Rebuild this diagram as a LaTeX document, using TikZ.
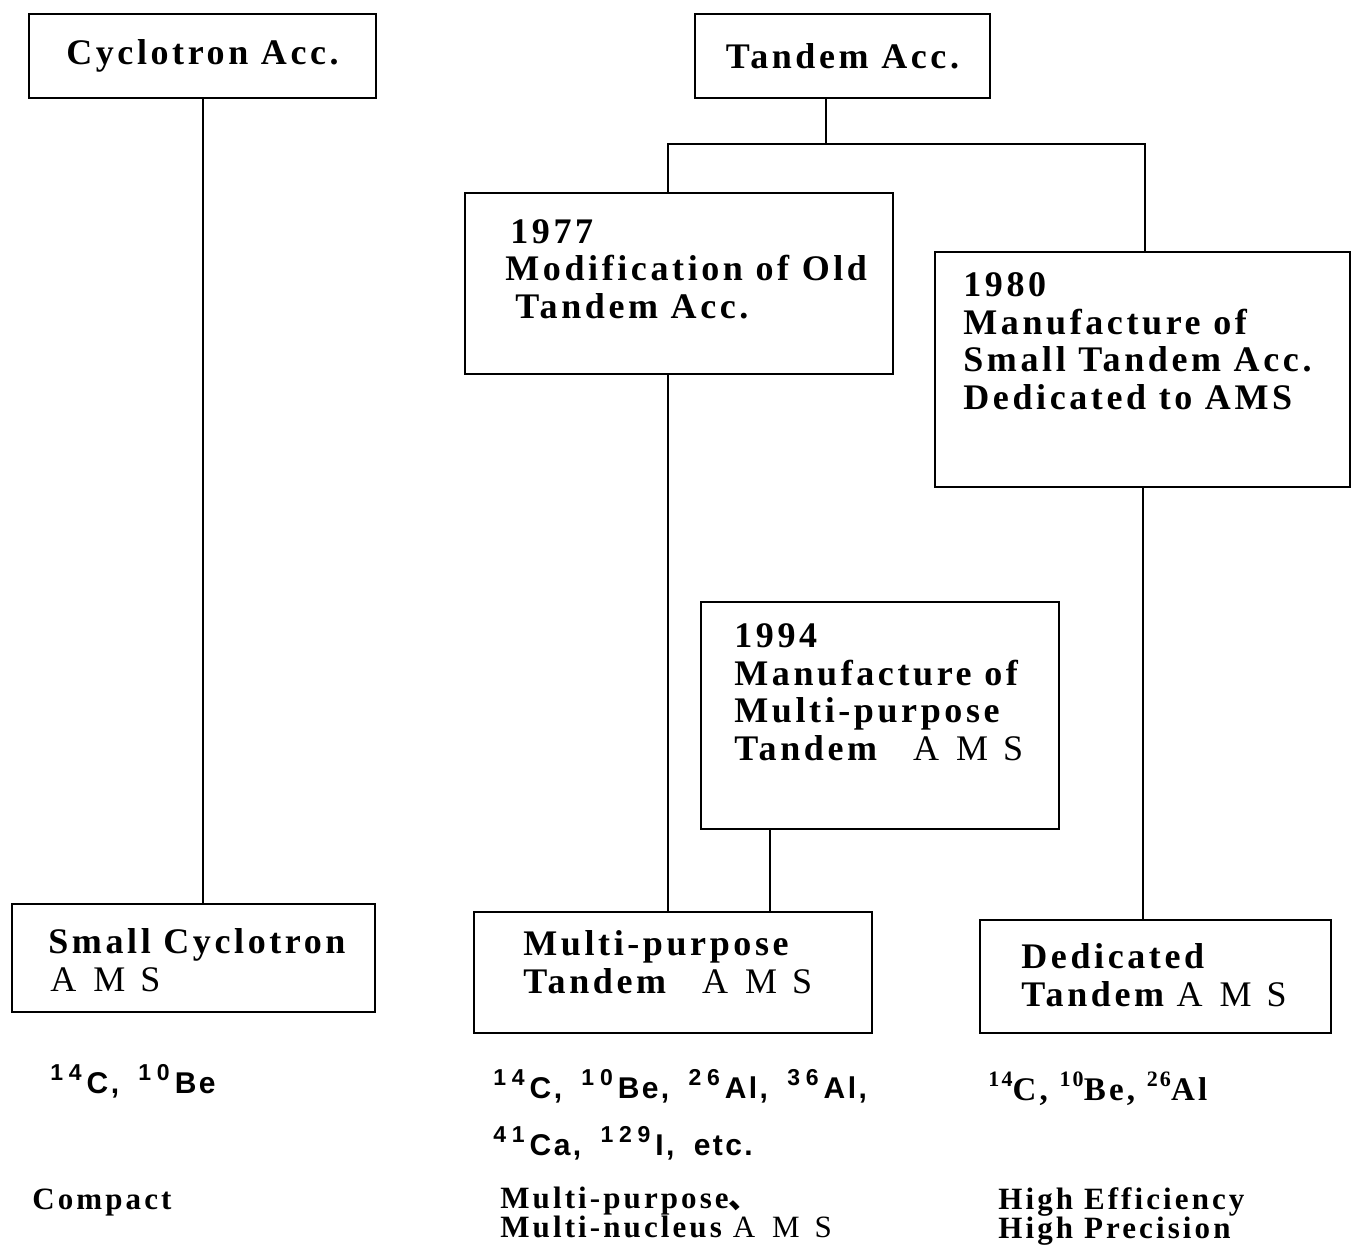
\documentclass[tikz,border=0pt]{standalone}
\usepackage{fontspec}
\setmainfont{Liberation Serif}
\newfontfamily\boxfont{Liberation Serif}[LetterSpace=10]
\newfontfamily\isofont{Liberation Sans}[LetterSpace=8, WordSpace=1.8]
\newfontfamily\isodigits{Liberation Sans}[LetterSpace=25]
\newfontfamily\cjk{Noto Sans CJK JP}
\newcommand{\Ams}{{\rmfamily\mdseries A\hspace{8.5pt}M\hspace{7.5pt}S}}
\newcommand{\IsoA}[2]{\raisebox{6.5pt}{\isodigits\fontsize{11.5}{11.5}\selectfont #1}\hspace{2.5pt}#2}
\newcommand{\IsoB}[2]{\raisebox{7pt}{\fontsize{11}{11}\selectfont #1}#2}

\begin{document}
\begin{tikzpicture}[x=0.5pt,y=-0.5pt]
\tikzset{BoxStyle/.style 2 args={draw, line width=1.2pt, inner sep=0pt,
  minimum width=#1, minimum height=#2,
  font=\boxfont\bfseries\fontsize{18}{18.75}\selectfont}}
\tikzset{TextStyle/.style={anchor=base west, align=left, inner sep=0pt,
  font=\boxfont\bfseries\fontsize{18}{18.75}\selectfont}}
\tikzset{IsoStyle/.style={anchor=base west, align=left, inner sep=0pt,
  font=\isofont\bfseries\fontsize{15}{28.5}\selectfont}}
\tikzset{NoteStyle/.style={anchor=base west, align=left, inner sep=0pt,
  font=\boxfont\bfseries\fontsize{15.5}{14.5}\selectfont}}
\tikzset{EdgeStyle/.style={line width=1pt}}
\useasboundingbox (0,0) rectangle (1352,1248);
\node[BoxStyle={173.5pt}{42pt}] (cyc) at (202.5,56) {Cyclotron Acc.};
\node[BoxStyle={147.5pt}{42pt}] (tan) at (842.5,56) {Tandem Acc.};
\node[BoxStyle={214pt}{90.5pt}] (m77) at (679,283.5) {};
\node[BoxStyle={207.5pt}{117.5pt}] (m80) at (1142.5,369.5) {};
\node[BoxStyle={179pt}{113.5pt}] (m94) at (880,715.5) {};
\node[BoxStyle={181.5pt}{54pt}] (scy) at (193.5,958) {};
\node[BoxStyle={199pt}{60.5pt}] (mpt) at (673,972.5) {};
\node[BoxStyle={175.5pt}{56.5pt}] (ded) at (1155.5,976.5) {};
\node[TextStyle] (t77) at (505,318) {\hspace{2.5pt}1977\\Modification of Old\\\hspace{5pt}Tandem Acc.};
\node[TextStyle] (t80) at (963,409) {1980\\Manufacture of\\Small Tandem Acc.\\Dedicated to AMS};
\node[TextStyle] (t94) at (734,760) {1994\\Manufacture of\\Multi-purpose\\Tandem\quad\Ams};
\node[TextStyle] (tscy) at (48,991) {Small Cyclotron\\\hspace{1pt}\Ams};
\node[TextStyle] (tmpt) at (523,993) {Multi-purpose\\Tandem\quad\Ams};
\node[TextStyle] (tded) at (1021,1006) {Dedicated\\Tandem \Ams};
\node[IsoStyle] (iscy) at (50,1093) {\IsoA{14}{C}, \IsoA{10}{Be}};
\node[IsoStyle] (impt) at (493,1155) {\IsoA{14}{C}, \IsoA{10}{Be}, \IsoA{26}{Al}, \IsoA{36}{Al},\\\IsoA{41}{Ca}, \IsoA{129}{I}, etc.};
\node[NoteStyle, font=\boxfont\bfseries\fontsize{16.5}{16.5}\selectfont] (ided) at (988,1100) {\IsoB{14}{C}, \IsoB{10}{Be}, \IsoB{26}{Al}};
\node[NoteStyle] (pscy) at (32,1209) {Compact};
\node[NoteStyle] (pmpt) at (500,1237) {Multi-purpose{\cjk 、}\\Multi-nucleus \Ams};
\node[NoteStyle] (pded) at (998,1238) {High Efficiency\\High Precision};
\coordinate (js) at (826,144);
\coordinate (jl) at (668,144);
\coordinate (jr) at (1145,144);
\draw[EdgeStyle] (cyc.south) -- (cyc.south |- scy.north);
\draw[EdgeStyle] (js |- tan.south) -- (js);
\draw[EdgeStyle] (jl |- m77.north) -- (jl) -- (jr) -- (jr |- m80.north);
\draw[EdgeStyle] (jl |- m77.south) -- (jl |- mpt.north);
\draw[EdgeStyle] ([xshift=-55pt]m94.south) -- ([xshift=-55pt]m94.south |- mpt.north);
\draw[EdgeStyle] (m80.south) -- (m80.south |- ded.north);
\end{tikzpicture}
\end{document}
